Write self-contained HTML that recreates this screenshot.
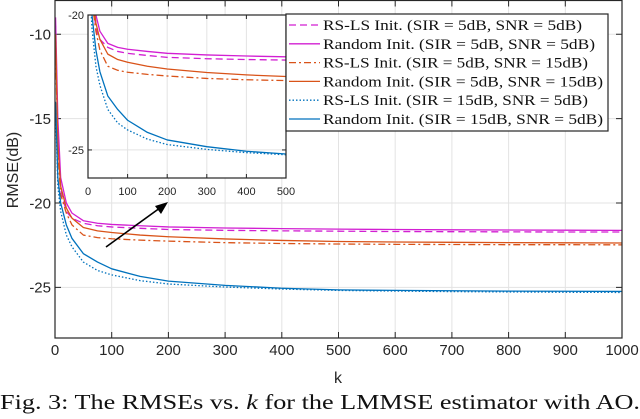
<!DOCTYPE html>
<html><head><meta charset="utf-8"><style>
body{margin:0;background:#fff;width:640px;height:419px;overflow:hidden}
svg{display:block}
</style></head><body>
<svg id="chart" width="640" height="419" xmlns="http://www.w3.org/2000/svg"></svg>
<script>
const kVals=[1,5,10,20,30,50,75,100,150,200,300,400,500,600,700,800,900,1000];
const rsls55=[-9.5,-16,-19.2,-20.5,-20.9,-21.2,-21.35,-21.42,-21.5,-21.57,-21.62,-21.65,-21.67,-21.69,-21.7,-21.71,-21.72,-21.72];
const rnd55=[-9,-15,-18.5,-20,-20.6,-21.05,-21.2,-21.27,-21.35,-21.42,-21.48,-21.52,-21.55,-21.57,-21.59,-21.6,-21.61,-21.62];
const rsls515=[-10.5,-17,-19.5,-20.6,-21.3,-21.9,-22.05,-22.12,-22.2,-22.26,-22.35,-22.4,-22.43,-22.45,-22.46,-22.47,-22.47,-22.48];
const rnd515=[-10,-16.5,-19,-20.3,-20.9,-21.45,-21.65,-21.75,-21.9,-22.0,-22.13,-22.22,-22.28,-22.31,-22.33,-22.35,-22.36,-22.37];
const rsls155=[-14.5,-19,-20.5,-21.9,-22.6,-23.5,-24.0,-24.26,-24.6,-24.8,-24.98,-25.1,-25.18,-25.22,-25.25,-25.27,-25.29,-25.3];
const rnd155=[-14,-18.5,-20,-21.3,-22.1,-23.0,-23.5,-23.9,-24.35,-24.63,-24.88,-25.05,-25.15,-25.18,-25.2,-25.22,-25.23,-25.24];
const seriesNames=["RS-LS Init. (SIR = 5dB, SNR = 5dB)","Random Init. (SIR = 5dB, SNR = 5dB)","RS-LS Init. (SIR = 5dB, SNR = 15dB)","Random Init. (SIR = 5dB, SNR = 15dB)","RS-LS Init. (SIR = 15dB, SNR = 5dB)","Random Init. (SIR = 15dB, SNR = 5dB)"];
const mainXTicks=[0,100,200,300,400,500,600,700,800,900,1000];
const mainYTicks=[-10,-15,-20,-25];
const insetXTicks=[0,100,200,300,400,500];
const insetYTicks=[-20,-25];

const allSeries=[rsls55,rnd55,rsls515,rnd515,rsls155,rnd155];
const styles=[
 {c:"#d21fd2",d:"7,4"},{c:"#d21fd2",d:""},
 {c:"#d95319",d:"7,3,2,3"},{c:"#d95319",d:""},
 {c:"#0072bd",d:"1.5,2"},{c:"#0072bd",d:""}];
const legendWidths=[259,272,265,280,265,280];
const slug=["rsls-sir5-snr5","random-sir5-snr5","rsls-sir5-snr15","random-sir5-snr15","rsls-sir15-snr5","random-sir15-snr5"];
const NS="http://www.w3.org/2000/svg";
const svg=document.getElementById('chart');
function mk(tag,attrs,parent){const e=document.createElementNS(NS,tag);for(const k in attrs)e.setAttribute(k,attrs[k]);(parent||svg).appendChild(e);return e;}
function axes(x0,x1,y0,y1,xmin,xmax,ymin,ymax){
 return {x:v=>x0+(v-xmin)/(xmax-xmin)*(x1-x0), y:v=>y1-(v-ymin)/(ymax-ymin)*(y1-y0)};
}
function drawPanel(name,x0,x1,y0,y1,xmin,xmax,ymin,ymax,xt,yt,fs,clipId,ticklen,xoff){
 const g=mk('g',{});
 
 
 mk('rect',{x:x0,y:y0,width:x1-x0,height:y1-y0,fill:'#fff'},g);
 const A=axes(x0,x1,y0,y1,xmin,xmax,ymin,ymax);
 xt.forEach(v=>{const x=A.x(v);
  const gl=mk('line',{x1:x,x2:x,y1:y0,y2:y1,stroke:'#e3e3e3','stroke-width':1},g);
  
  mk('line',{x1:x,x2:x,y1:y1,y2:y1-ticklen,stroke:'#262626'},g);
  mk('line',{x1:x,x2:x,y1:y0,y2:y0+ticklen,stroke:'#262626'},g);
  const t=mk('text',{x:x,y:y1+fs+xoff,'font-size':fs,'text-anchor':'middle',fill:'#262626','font-family':'Liberation Sans, sans-serif'},g);
  t.textContent=v;});
 yt.forEach(v=>{const y=A.y(v);
  const gl=mk('line',{x1:x0,x2:x1,y1:y,y2:y,stroke:'#e3e3e3','stroke-width':1},g);
  
  mk('line',{x1:x0,x2:x0+ticklen,y1:y,y2:y,stroke:'#262626'},g);
  mk('line',{x1:x1,x2:x1-ticklen,y1:y,y2:y,stroke:'#262626'},g);
  const t=mk('text',{x:x0-4,y:y+fs*0.35,'font-size':fs,'text-anchor':'end',fill:'#262626','font-family':'Liberation Sans, sans-serif'},g);
  t.textContent=v;});
 const cp=mk('clipPath',{id:clipId},g);mk('rect',{x:x0,y:y0,width:x1-x0,height:y1-y0},cp);
 allSeries.forEach((s,i)=>{
  const pts=kVals.map((k,j)=>A.x(k).toFixed(2)+','+A.y(s[j]).toFixed(2)).join(' ');
  const p=mk('polyline',{points:pts,fill:'none',stroke:styles[i].c,'stroke-width':1.3,'stroke-dasharray':styles[i].d,'stroke-linejoin':'round','clip-path':'url(#'+clipId+')'},g);
  });
 mk('rect',{x:x0,y:y0,width:x1-x0,height:y1-y0,fill:'none',stroke:'#262626','stroke-width':1.2},g);
 return g;
}
drawPanel('main-plot',55,622,0.5,338,0,1000,-28,-8,mainXTicks,mainYTicks,15,'cm',6,2);
const ar=mk('g',{});

mk('line',{x1:106,y1:247,x2:164,y2:205,stroke:'#000','stroke-width':1.6},ar);
mk('polygon',{points:'168,202 155,206 161,214',fill:'#000'},ar);
drawPanel('inset-plot',88,286,15,178,0,500,-26.04,-20,insetXTicks,insetYTicks,11,'ci',4,6);
const lg=mk('g',{});

mk('rect',{x:286,y:14,width:322,height:117,fill:'#fff',stroke:'#262626','stroke-width':1.2},lg);
seriesNames.forEach((n,i)=>{const y=25+i*18.8;
 const e=mk('g',{},lg);
 mk('line',{x1:289,x2:320,y1:y,y2:y,stroke:styles[i].c,'stroke-width':1.3,'stroke-dasharray':styles[i].d},e);
 const t=mk('text',{x:323,y:y+5,'font-size':14.5,fill:'#111','font-family':'Liberation Serif, serif',textLength:legendWidths[i],lengthAdjust:'spacingAndGlyphs'},e);t.textContent=n;});
const yl=mk('text',{x:0,y:0,transform:'translate(18,170) rotate(-90)','font-size':16,'text-anchor':'middle',fill:'#262626','font-family':'Liberation Sans, sans-serif'});
yl.textContent='RMSE(dB)';
const xl=mk('text',{x:338,y:383,'font-size':16,'text-anchor':'middle',fill:'#262626','font-family':'Liberation Sans, sans-serif'});
xl.textContent='k';
const cap=mk('text',{x:0,y:409,'font-size':21,fill:'#111','font-family':'Liberation Serif, serif',textLength:640,lengthAdjust:'spacingAndGlyphs'});
cap.innerHTML='Fig. 3: The RMSEs vs. <tspan font-style="italic">k</tspan> for the LMMSE estimator with AO.';

</script>
</body></html>
